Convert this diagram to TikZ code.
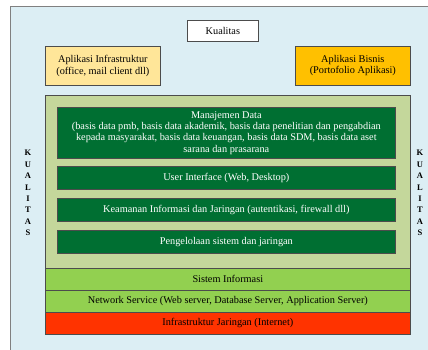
\documentclass[tikz,border=0pt]{standalone}
\usepackage{fontspec}
\setmainfont{Liberation Serif}
\usepackage{xcolor}
\usetikzlibrary{positioning}

\definecolor{frameblue}{HTML}{DCEEF4}
\definecolor{paleyellow}{HTML}{FFE699}
\definecolor{gold}{HTML}{FFC000}
\definecolor{khaki}{HTML}{C4D79B}
\definecolor{darkgreen}{HTML}{006F32}
\definecolor{lightgreen}{HTML}{92D050}
\definecolor{redorange}{HTML}{FF3300}

\tikzset{
	layer/.style={draw=gray!60!black, line width=0.7pt, anchor=north west, inner sep=0pt,
		align=center, font=\fontsize{10.3}{11.3}\selectfont},
	greenbar/.style={layer, fill=darkgreen, text=white, minimum width=338pt},
	basebar/.style={layer, minimum width=365pt, minimum height=22pt},
	sideword/.style={align=center, inner sep=0pt, font=\bfseries\fontsize{8.5}{11.4}\selectfont}
}

\begin{document}
\begin{tikzpicture}[x=1pt, y=-1pt]
	\useasboundingbox (0,0) rectangle (428,349);

	% Outer frame (right and bottom edges run off the picture)
	\draw[fill=frameblue, draw=gray, line width=0.9pt] (10,6) rectangle (440,360);

	% Top: quality and applications
	\node (kualitas) [layer, fill=white, minimum width=71pt, minimum height=21pt] at (187,20) {Kualitas};
	\node (infra) [layer, fill=paleyellow, minimum width=115pt, minimum height=39pt] at (45,46)
		{Aplikasi Infrastruktur\\(office, mail client dll)};
	\node (bisnis) [layer, fill=gold, minimum width=115pt, minimum height=39pt] at (295,46)
		{Aplikasi Bisnis\\(Portofolio Aplikasi)};

	% Khaki panel holding the dark green layers
	\node (panel) [layer, fill=khaki, minimum width=365pt, minimum height=173pt] at (45,95) {};

	\node (data) [greenbar, minimum height=51pt] at (57,107)
		{Manajemen Data\\(basis data pmb, basis data akademik, basis data penelitian dan pengabdian\\
		kepada masyarakat, basis data keuangan, basis data SDM, basis data aset\\sarana dan prasarana};
	\node (ui) [greenbar, minimum height=23pt] at (57,166) {User Interface (Web, Desktop)};
	\node (aman) [greenbar, minimum height=23pt] at (57,198) {Keamanan Informasi dan Jaringan (autentikasi, firewall dll)};
	\node (kelola) [greenbar, minimum height=23pt] at (57,230) {Pengelolaan sistem dan jaringan};

	% Bottom layers
	\node (si) [basebar, fill=lightgreen] at (45,268) {Sistem Informasi};
	\node (ns) [basebar, fill=lightgreen] at (45,290) {Network Service (Web server, Database Server, Application Server)};
	\node (net) [basebar, fill=redorange] at (45,312) {Infrastruktur Jaringan (Internet)};

	% Vertical quality labels
	\node (kiri) [sideword] at (28,193) {K\\U\\A\\L\\I\\T\\A\\S};
	\node (kanan) [sideword] at (420,193) {K\\U\\A\\L\\I\\T\\A\\S};
\end{tikzpicture}
\end{document}
